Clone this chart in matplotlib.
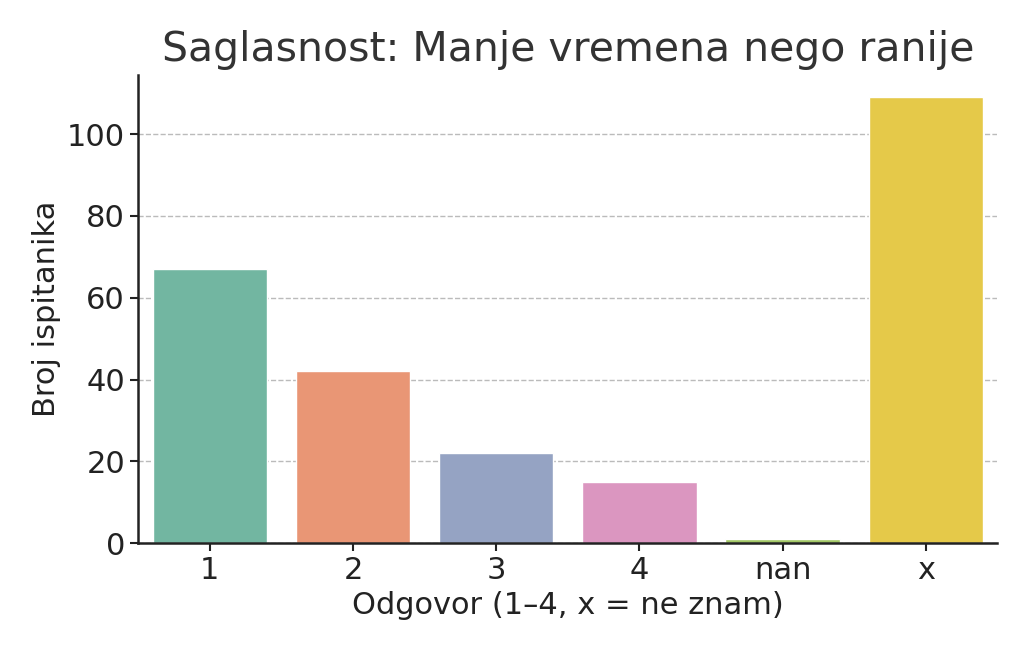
import matplotlib
matplotlib.use("Agg")
import matplotlib.pyplot as plt
import seaborn as sns

categories = ["1", "2", "3", "4", "nan", "x"]
counts = [67, 42, 22, 15, 1, 109]

sns.set_style("ticks")
plt.rcParams['font.family'] = ['DejaVu Sans']

fig, ax = plt.subplots(figsize=(10.24, 6.52), dpi=100)
colors = [sns.desaturate(c, 0.75) for c in sns.color_palette("Set2", len(categories))]
ax.bar(categories, counts, color=colors, width=0.8)

ax.set_title("Saglasnost: Manje vremena nego ranije", fontsize=29.5, color="#333333", pad=10)
ax.set_xlabel("Odgovor (1–4, x = ne znam)", fontsize=22, color="#222222")
ax.set_ylabel("Broj ispitanika", fontsize=22, color="#222222")
ax.tick_params(axis="both", labelsize=22, width=1.5, length=6, colors="#222222")
ax.yaxis.grid(True, linestyle="--", color="#bbbbbb", linewidth=1)
ax.set_axisbelow(True)
ax.set_xlim(-0.5, 5.5)
for s in ["left", "bottom"]:
    ax.spines[s].set_linewidth(1.8)
    ax.spines[s].set_color("#222222")
sns.despine(ax=ax)

fig.subplots_adjust(left=0.135, right=0.974, top=0.885, bottom=0.167)
fig.savefig("out.png", dpi=100)
